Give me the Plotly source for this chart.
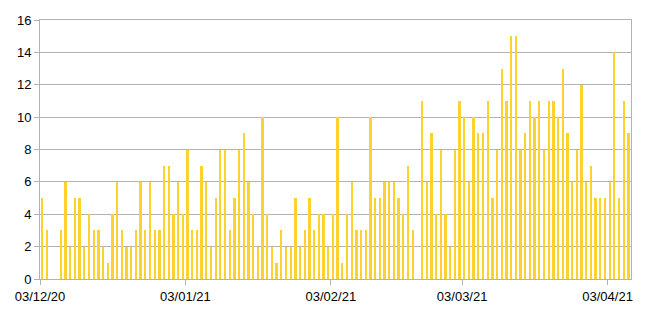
import plotly.graph_objects as go
import pandas as pd

start_date = "2020-12-03"
values = [
    5, 3, 0, 0, 3, 6, 2, 5, 5, 2, 4, 3, 3, 2, 1,
    4, 6, 3, 2, 2, 3, 6, 3, 6, 3, 3, 7, 7, 4, 6, 4,
    8, 3, 3, 7, 6, 2, 5, 8, 8, 3, 5, 8, 9, 6, 4, 2,
    10, 4, 2, 1, 3, 2, 2, 5, 2, 3, 5, 3, 4, 4, 2, 4,
    10, 1, 4, 6, 3, 3, 3, 10, 5, 5, 6, 6, 6, 5, 4, 7,
    3, 0, 11, 6, 9, 4, 8, 4, 2, 8, 11, 10, 6, 10, 9, 9,
    11, 5, 8, 13, 11, 15, 15, 8, 9, 11, 10, 11, 8, 11, 11, 10,
    13, 9, 6, 8, 12, 6, 7, 5, 5, 5, 6, 14, 5, 11, 9,
]
tick_dates = ["2020-12-03", "2021-01-03", "2021-02-03", "2021-03-03", "2021-04-03"]
tick_labels = ["03/12/20", "03/01/21", "03/02/21", "03/03/21", "03/04/21"]
y_ticks = [0, 2, 4, 6, 8, 10, 12, 14, 16]

dates = pd.date_range(start_date, periods=len(values), freq="D") + pd.Timedelta(hours=12)
day_ms = 86400000

fig = go.Figure()
fig.add_trace(go.Bar(
    x=dates, y=values,
    width=[0.38 * day_ms] * len(values),
    marker=dict(color="#FDD22E", line=dict(width=0)),
))

grid = "#b3b3b3"
font = dict(family="Liberation Sans, Arial, sans-serif", size=13, color="#000000")
fig.update_layout(
    width=650, height=323,
    margin=dict(l=40, r=19, t=20, b=44),
    paper_bgcolor="white", plot_bgcolor="white",
    showlegend=False, font=font, bargap=0,
)
fig.update_xaxes(
    type="date",
    range=[pd.Timestamp(start_date), pd.Timestamp(start_date) + pd.Timedelta(days=len(values))],
    tickvals=tick_dates, ticktext=tick_labels,
    showgrid=False, showline=True, linecolor=grid, linewidth=1, mirror=True,
    ticks="outside", ticklen=5, tickcolor=grid, tickfont=font, zeroline=False,
)
fig.update_yaxes(
    range=[0, 16], tickvals=y_ticks,
    showgrid=True, gridcolor=grid, gridwidth=1,
    showline=True, linecolor=grid, linewidth=1, mirror=True,
    ticks="outside", ticklen=5, tickcolor=grid, tickfont=font, zeroline=False,
)
fig.write_html("out.html")
